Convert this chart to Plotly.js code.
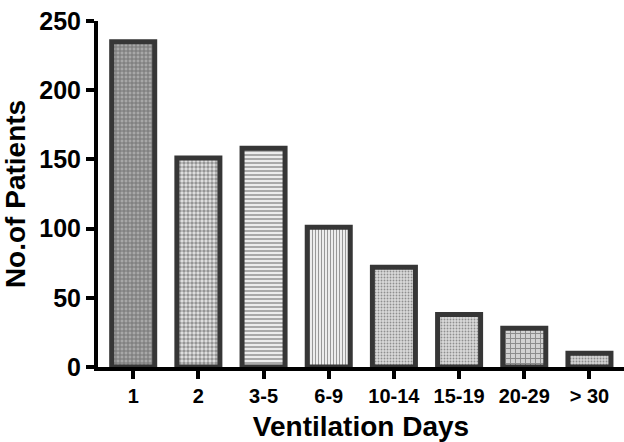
<!DOCTYPE html>
<html>
<head>
<meta charset="utf-8">
<script src="https://cdn.plot.ly/plotly-3.0.1.min.js"></script>
<style>html,body{margin:0;padding:0;background:#fff;}#chart{width:624px;height:442px;}</style>
</head>
<body>
<div id="chart"></div>
<script>
// Data
const categories = ["1", "2", "3-5", "6-9", "10-14", "15-19", "20-29", "> 30"];
const patients = [235, 151, 158, 101, 72, 38, 28, 10];
const yTickValues = [0, 50, 100, 150, 200, 250];

// Styles (per bar pattern)
const patShapes = ["+", ".", "-", "|", ".", ".", "+", "."];
const patFg = ["#6e6e6e", "#2a2a2a", "#8a8a8a", "#999999", "#9a9a9a", "#9a9a9a", "#808080", "#9a9a9a"];
const patBg = ["#a8a8a8", "#e6e6e6", "#ececec", "#ededed", "#dadada", "#dadada", "#d2d2d2", "#d4d4d4"];
const patSize = [4, 4, 4, 3, 3, 3, 5, 3];
const patSolid = [0.45, 0.6, 0.4, 0.35, 0.3, 0.3, 0.35, 0.3];

const font = {family: "Liberation Sans, Arial, Helvetica, sans-serif", color: "#000"};

const trace = {
  type: "bar",
  x: categories,
  y: patients,
  width: 0.66,
  marker: {
    color: patBg,
    line: {color: "#363636", width: 5},
    pattern: {shape: patShapes, fgcolor: patFg, bgcolor: patBg, size: patSize, solidity: patSolid, fillmode: "overlay"}
  },
  hoverinfo: "none"
};

const layout = {
  width: 624, height: 442,
  margin: {l: 98, r: 0, t: 21, b: 75},
  paper_bgcolor: "#fff", plot_bgcolor: "#fff",
  showlegend: false,
  xaxis: {
    type: "category",
    range: [-0.54, 7.53],
    showgrid: false, zeroline: false,
    showline: true, linecolor: "#000", linewidth: 4,
    ticks: "outside", ticklen: 8, tickwidth: 4, tickcolor: "#000",
    tickfont: Object.assign({}, font, {size: 20, weight: "bold"}),
    title: {text: "Ventilation Days", font: Object.assign({}, font, {size: 28, weight: "bold"}), standoff: 14}
  },
  yaxis: {
    range: [0, 250],
    tickvals: yTickValues,
    showgrid: false, zeroline: false,
    showline: true, linecolor: "#000", linewidth: 4,
    ticks: "outside", ticklen: 8, tickwidth: 4, tickcolor: "#000",
    tickfont: Object.assign({}, font, {size: 25, weight: "bold"}),
    title: {text: "No.of Patients", font: Object.assign({}, font, {size: 28, weight: "bold"}), standoff: 6}
  }
};

Plotly.newPlot("chart", [trace], layout, {displayModeBar: false, staticPlot: true});
</script>
</body>
</html>
